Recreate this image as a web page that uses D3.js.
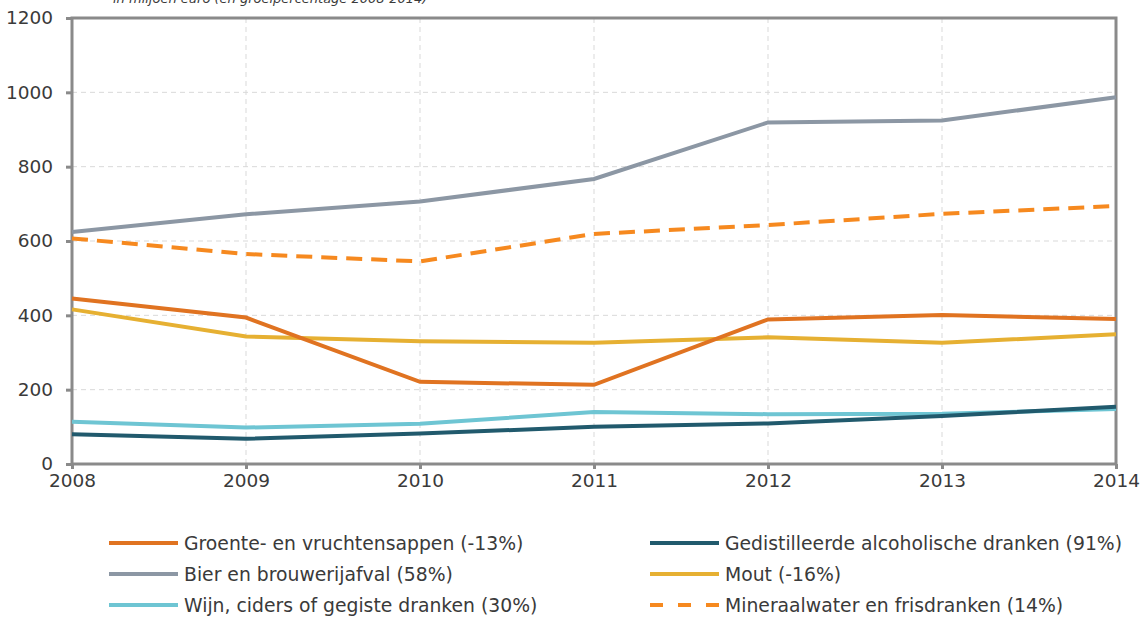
<!DOCTYPE html>
<html>
<head>
<meta charset="utf-8">
<script src="https://cdn.jsdelivr.net/npm/d3@7"></script>
<style>
  body { margin: 0; background: #fff; }
  svg text { font-family: "DejaVu Sans", Verdana, sans-serif; fill: #3a3a3a; }
</style>
</head>
<body>
<svg id="chart" width="1145" height="619"></svg>
<script>
// data
const years = [2008, 2009, 2010, 2011, 2012, 2013, 2014];
const yTicks = [0, 200, 400, 600, 800, 1000, 1200];

const groente = [445, 394, 221, 213, 389, 401, 390];
const bier = [624, 672, 706, 767, 919, 924, 987];
const wijn = [114, 98, 108, 140, 134, 135, 148];
const gedistilleerd = [80, 68, 82, 100, 109, 129, 154];
const mout = [416, 343, 330, 326, 341, 326, 349];
const mineraalwater = [607, 565, 545, 619, 643, 673, 694];

const series = [
    { name: "Groente- en vruchtensappen (-13%)", values: groente, color: "#e07321", dash: null },
    { name: "Gedistilleerde alcoholische dranken (91%)", values: gedistilleerd, color: "#215a6d", dash: null },
    { name: "Bier en brouwerijafval (58%)", values: bier, color: "#8c97a4", dash: null },
    { name: "Mout (-16%)", values: mout, color: "#e6b032", dash: null },
    { name: "Wijn, ciders of gegiste dranken (30%)", values: wijn, color: "#6ec5d3", dash: null },
    { name: "Mineraalwater en frisdranken (14%)", values: mineraalwater, color: "#f6891f", dash: "16,9" }
];

const svg = d3.select("#chart");
const margin = { top: 18, left: 72, right: 29, bottom: 155 };
const width = 1145, height = 619;

const x = d3.scaleLinear()
    .domain([2008, 2014])
    .range([margin.left, width - margin.right]);

const y = d3.scaleLinear()
    .domain([0, 1200])
    .range([height - margin.bottom, margin.top]);

// title (cut off at the top in the original)
svg.append("text")
    .attr("x", 113)
    .attr("y", 3)
    .attr("font-size", 13)
    .attr("font-style", "italic")
    .text("in miljoen euro (en groeipercentage 2008-2014)");

// grid
svg.append("g").selectAll("line")
    .data(yTicks.slice(1))
    .enter().append("line")
    .attr("x1", x(2008)).attr("x2", x(2014))
    .attr("y1", d => y(d)).attr("y2", d => y(d))
    .attr("stroke", "#d9d9d9")
    .attr("stroke-dasharray", "5,4");

svg.append("g").selectAll("line")
    .data(years.slice(1))
    .enter().append("line")
    .attr("x1", d => x(d)).attr("x2", d => x(d))
    .attr("y1", y(0)).attr("y2", y(1200))
    .attr("stroke", "#d9d9d9")
    .attr("stroke-dasharray", "5,4");

// frame
svg.append("rect")
    .attr("x", x(2008)).attr("y", y(1200))
    .attr("width", x(2014) - x(2008))
    .attr("height", y(0) - y(1200))
    .attr("fill", "none")
    .attr("stroke", "#8a8a8a")
    .attr("stroke-width", 3);

// axes
const yAxis = svg.append("g")
    .attr("transform", `translate(${margin.left},0)`)
    .call(d3.axisLeft(y).tickValues(yTicks).tickSize(6).tickPadding(13).tickFormat(d3.format("d")));

const xAxis = svg.append("g")
    .attr("transform", `translate(0,${y(0)})`)
    .call(d3.axisBottom(x).tickValues(years).tickSize(5).tickPadding(5).tickFormat(d3.format("d")));

[yAxis, xAxis].forEach(g => {
    g.select(".domain").remove();
    g.selectAll(".tick line").attr("stroke", "#8a8a8a").attr("stroke-width", 3);
    g.selectAll(".tick text").attr("font-size", 18.5).attr("fill", "#3a3a3a")
        .attr("font-family", "DejaVu Sans, Verdana, sans-serif");
});

// lines
const line = d3.line()
    .x((d, i) => x(years[i]))
    .y(d => y(d));

const drawOrder = [4, 1, 3, 0, 5, 2];
drawOrder.forEach(i => {
    const s = series[i];
    svg.append("path")
        .datum(s.values)
        .attr("d", line)
        .attr("fill", "none")
        .attr("stroke", s.color)
        .attr("stroke-width", 4)
        .attr("stroke-dasharray", s.dash);
});

// legend
const legend = svg.append("g");
series.forEach((s, i) => {
    const col = i % 2, row = Math.floor(i / 2);
    const lx = col === 0 ? 109 : 650;
    const ly = 543 + row * 31;
    const g = legend.append("g").attr("transform", `translate(${lx},${ly})`);
    g.append("line")
        .attr("x1", 0).attr("x2", 69)
        .attr("stroke", s.color)
        .attr("stroke-width", 4)
        .attr("stroke-dasharray", s.dash ? "13,15" : null);
    g.append("text")
        .attr("x", 75)
        .attr("dy", "0.35em")
        .attr("font-size", 18.8)
        .text(s.name);
});
</script>
</body>
</html>
